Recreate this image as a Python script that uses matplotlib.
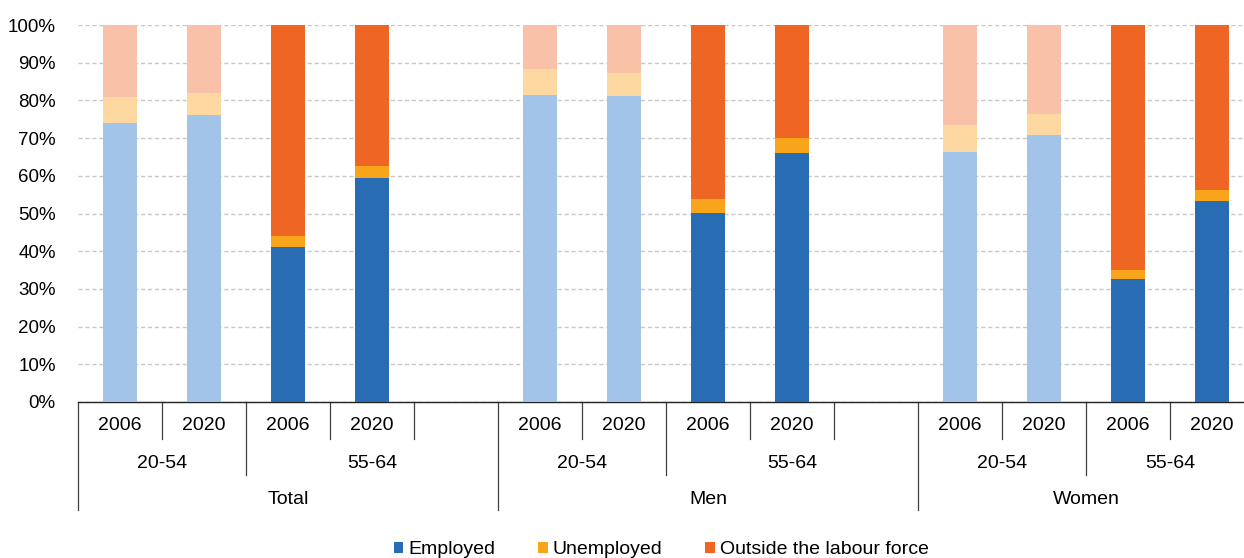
import matplotlib
matplotlib.use("Agg")
import numpy as np
from matplotlib import pyplot as plt
from matplotlib.patches import Patch
from matplotlib.transforms import blended_transform_factory

plt.rcParams['font.family'] = ['Liberation Sans', 'DejaVu Sans']

sexes = ['Total', 'Men', 'Women']
ages = ['20-54', '55-64']
years = ['2006', '2020']

# shares in %, order: sex -> age -> year
employed = [74.1, 76.0, 41.1, 59.5, 81.5, 81.2, 50.1, 66.1, 66.4, 70.7, 32.5, 53.3]
unemployed = [6.8, 6.0, 3.0, 3.2, 6.9, 6.1, 3.8, 3.8, 7.2, 5.8, 2.6, 3.0]
outside = [19.1, 18.0, 55.9, 37.3, 11.6, 12.7, 46.1, 30.1, 26.4, 23.5, 64.9, 43.7]

series = ['Employed', 'Unemployed', 'Outside the labour force']
dark = ['#286DB3', '#F9A51B', '#EF6624']
light = ['#A1C4E8', '#FDD8A0', '#F8C1A8']

# slot positions: 4 bars per sex + one empty slot between sexes
pos = []
for s in range(len(sexes)):
    for k in range(4):
        pos.append(s * 5 + k)
pos = np.array(pos)

W, H = 1244, 558
fig = plt.figure(figsize=(W / 100, H / 100), dpi=100)
x0, x1, ytop, ybot = 78, 1244, 25, 402
ax = fig.add_axes([x0 / W, (H - ybot) / H, (x1 - x0) / W, (ybot - ytop) / H])

slot_px = 84
ax.set_xlim(-0.5, -0.5 + (x1 - x0) / slot_px)
ax.set_ylim(0, 100)

bottom = np.zeros(len(pos))
for j, vals in enumerate([employed, unemployed, outside]):
    vals = np.array(vals)
    cols = []
    for i in range(len(pos)):
        age_idx = (i // 2) % 2
        cols.append(light[j] if age_idx == 0 else dark[j])
    ax.bar(pos, vals, width=0.4, bottom=bottom, color=cols, zorder=3, linewidth=0)
    bottom += vals

ax.set_yticks(np.arange(0, 101, 10))
ax.set_yticklabels([f'{v}%' for v in range(0, 101, 10)], fontsize=13.5)
ax.tick_params(axis='y', length=0, pad=16)
ax.tick_params(axis='x', length=0, labelbottom=False)
ax.yaxis.grid(True, color='#C8C8C8', linestyle=(0, (3, 2)), linewidth=1, zorder=0)
for side in ['left', 'right', 'top']:
    ax.spines[side].set_visible(False)
ax.spines['bottom'].set_color('#222222')
ax.spines['bottom'].set_linewidth(1)

# category table under the axis
tr = blended_transform_factory(ax.transData, ax.transAxes)
axh = ybot - ytop
def yax(py):
    return (ybot - py) / axh

row_year, row_age, row_sex = yax(439), yax(475), yax(510)
lc = '#404040'
for s in range(len(sexes)):
    base = s * 5
    last = s == len(sexes) - 1
    # number of slots in this sex group (last group has no trailing gap)
    nslots = 4 if last else 5
    for k in range(1, 5):
        depth = row_age if k == 2 else row_year
        ax.plot([base + k - 0.5] * 2, [0, depth], color=lc, lw=0.9,
                transform=tr, clip_on=False)
    ax.plot([base - 0.5] * 2, [0, row_sex], color=lc, lw=0.9,
            transform=tr, clip_on=False)
    for k in range(4):
        ax.text(base + k, yax(426), years[k % 2], transform=tr, ha='center',
                va='center', fontsize=14)
    ax.text(base + 0.5, yax(463), ages[0], transform=tr,
            ha='center', va='center', fontsize=14)
    ax.text(base + 2 + (nslots - 2 - 1) / 2, yax(463), ages[1], transform=tr,
            ha='center', va='center', fontsize=14)
    ax.text(base + (nslots - 1) / 2, yax(499), sexes[s], transform=tr,
            ha='center', va='center', fontsize=14)

handles = [Patch(facecolor=c, edgecolor='none') for c in dark]
fig.legend(handles, series, loc='center', bbox_to_anchor=((x0 + x1) / 2 / W, 8 / H),
           ncol=3, frameon=False, fontsize=14, handlelength=0.5, handleheight=0.5,
           handletextpad=0.25, columnspacing=2.2)

fig.savefig('out.png', dpi=100)
